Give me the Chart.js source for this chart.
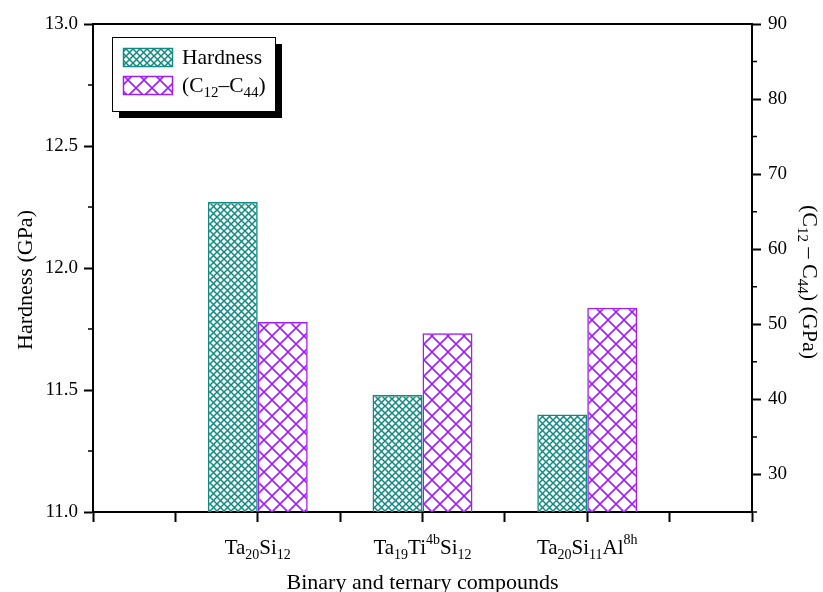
<!DOCTYPE html>
<html>
<head>
<meta charset="utf-8">
<title>Hardness and Cauchy pressure</title>
<script src="https://cdn.jsdelivr.net/npm/chart.js@4.4.1/dist/chart.umd.min.js"></script>
<style>
  html, body { margin: 0; padding: 0; background: #fff; }
  #grafico { display: block; }
</style>
</head>
<body>
<canvas id="grafico" width="823" height="592"></canvas>
<script>
// compounds, _{..} = subscript, ^{..} = superscript
var categories = ['Ta_{20}Si_{12}', 'Ta_{19}Ti^{4b}Si_{12}', 'Ta_{20}Si_{11}Al^{8h}'];
var hardness = [12.27, 11.48, 11.40];        // GPa, left axis
var c12MinusC44 = [50.3, 48.8, 52.2];        // GPa, right axis
var hardnessTicks = [11.0, 11.5, 12.0, 12.5, 13.0];
var hardnessMinor = [11.25, 11.75, 12.25, 12.75];
var cauchyTicks = [30, 40, 50, 60, 70, 80, 90];
var cauchyMinor = [25, 35, 45, 55, 65, 75, 85];

var TEAL = '#118a84';
var PURPLE = '#9e1ef5';
var FONT = "'Liberation Serif', 'Times New Roman', serif";

// x axis has 9 slots (ticks every half category), compounds sit on slots 2, 4, 6
var slots = [];
var hardSlots = [];
var cauchySlots = [];
for (var i = 0; i < 9; i++) { slots.push(''); hardSlots.push(null); cauchySlots.push(null); }
categories.forEach(function (c, k) {
    slots[2 + 2 * k] = c;
    hardSlots[2 + 2 * k] = hardness[k];
    cauchySlots[2 + 2 * k] = c12MinusC44[k];
});

var ctx = document.getElementById('grafico');
var c2d = ctx.getContext('2d');

function crossHatch(color, size, lw) {
    var t = document.createElement('canvas');
    t.width = size; t.height = size;
    var g = t.getContext('2d');
    g.strokeStyle = color;
    g.lineWidth = lw;
    g.beginPath();
    g.moveTo(-1, -1); g.lineTo(size + 1, size + 1);
    g.moveTo(size + 1, -1); g.lineTo(-1, size + 1);
    g.stroke();
    return c2d.createPattern(t, 'repeat');
}
var tealHatch = crossHatch(TEAL, 7, 1.5);
var purpleHatch = crossHatch(PURPLE, 16, 1.6);

function parseRich(str) {
    var out = [], re = /([_^])\{([^}]*)\}/g, last = 0, m;
    while ((m = re.exec(str))) {
        if (m.index > last) out.push({ t: str.slice(last, m.index), k: 'n' });
        out.push({ t: m[2], k: m[1] === '_' ? 'sub' : 'sup' });
        last = re.lastIndex;
    }
    if (last < str.length) out.push({ t: str.slice(last), k: 'n' });
    return out;
}

// draws text with sub/superscripts, x is the left edge or centre
function drawRich(g, str, x, y, size, align) {
    var parts = parseRich(str);
    var small = Math.round(size * 0.68);
    var total = 0;
    parts.forEach(function (p) {
        g.font = (p.k === 'n' ? size : small) + 'px ' + FONT;
        p.w = g.measureText(p.t).width;
        total += p.w;
    });
    var cx = align === 'center' ? x - total / 2 : x;
    g.textAlign = 'left';
    g.textBaseline = 'alphabetic';
    parts.forEach(function (p) {
        g.font = (p.k === 'n' ? size : small) + 'px ' + FONT;
        var dy = p.k === 'sub' ? size * 0.24 : (p.k === 'sup' ? -size * 0.48 : 0);
        g.fillText(p.t, cx, y + dy);
        cx += p.w;
    });
}

var decoraciones = {
    id: 'decoraciones',
    afterDraw: function (chart) {
        var g = chart.ctx;
        var a = chart.chartArea;
        var x = chart.scales.x, y = chart.scales.y, y2 = chart.scales.y2;
        g.save();
        g.fillStyle = '#000';
        g.strokeStyle = '#000';

        // top frame line
        g.lineWidth = 2;
        g.beginPath();
        g.moveTo(a.left - 1, a.top);
        g.lineTo(a.right + 1, a.top);
        g.stroke();

        // minor ticks
        g.lineWidth = 1.5;
        g.beginPath();
        hardnessMinor.forEach(function (v) {
            var py = y.getPixelForValue(v);
            g.moveTo(a.left - 5, py); g.lineTo(a.left, py);
        });
        cauchyMinor.forEach(function (v) {
            var py = y2.getPixelForValue(v);
            g.moveTo(a.right, py); g.lineTo(a.right + 5, py);
        });
        g.stroke();

        // compound labels under the axis
        g.fillStyle = '#000';
        categories.forEach(function (c, k) {
            var px = x.getPixelForValue(2 + 2 * k);
            drawRich(g, c, px, 554, 21, 'center');
        });

        // axis titles
        g.font = '22px ' + FONT;
        g.textAlign = 'center';
        g.textBaseline = 'alphabetic';
        g.fillText('Binary and ternary compounds', (a.left + a.right) / 2, 589);

        g.save();
        g.translate(32, 280);
        g.rotate(-Math.PI / 2);
        g.fillText('Hardness (GPa)', 0, 0);
        g.restore();

        g.save();
        g.translate(803, 282);
        g.rotate(Math.PI / 2);
        drawRich(g, '(C_{12} \u2013 C_{44}) (GPa)', 0, 0, 22, 'center');
        g.restore();

        // legend box with drop shadow
        var lx = 112, ly = 37, lw = 163, lh = 74;
        g.fillStyle = '#000';
        g.fillRect(lx + 7, ly + 7, lw, lh);
        g.fillStyle = '#fff';
        g.fillRect(lx, ly, lw, lh);
        g.lineWidth = 1;
        g.strokeRect(lx + 0.5, ly + 0.5, lw, lh);

        var items = [
            { pat: tealHatch, col: TEAL, txt: chart.data.datasets[0].label, y: 48 },
            { pat: purpleHatch, col: PURPLE, txt: chart.data.datasets[1].label, y: 76 }
        ];
        items.forEach(function (it) {
            g.fillStyle = it.pat;
            g.fillRect(123, it.y, 50, 19);
            g.strokeStyle = it.col;
            g.lineWidth = 1.5;
            g.strokeRect(123.5, it.y + 0.5, 49, 18);
            g.fillStyle = '#000';
            drawRich(g, it.txt, 182, it.y + 16, 21.5, 'left');
        });
        g.restore();
    }
};

var miGrafico = new Chart(ctx, {
    type: 'bar',
    data: {
        labels: slots,
        datasets: [{
            label: 'Hardness',
            data: hardSlots,
            yAxisID: 'y',
            backgroundColor: tealHatch,
            borderColor: TEAL,
            borderWidth: 1.5,
            barPercentage: 1,
            categoryPercentage: 100 / 82.4
        }, {
            label: '(C_{12}\u2013C_{44})',
            data: cauchySlots,
            yAxisID: 'y2',
            backgroundColor: purpleHatch,
            borderColor: PURPLE,
            borderWidth: 1.5,
            barPercentage: 1,
            categoryPercentage: 100 / 82.4
        }]
    },
    options: {
        responsive: false,
        animation: false,
        layout: { padding: { top: 24, left: 0, right: 0, bottom: 0 } },
        plugins: {
            legend: { display: false },
            tooltip: { enabled: false }
        },
        scales: {
            x: {
                type: 'category',
                offset: false,
                grid: { offset: false, drawOnChartArea: false, tickLength: 10, tickWidth: 2, tickColor: '#000' },
                border: { display: true, color: '#000', width: 2 },
                ticks: { autoSkip: false, maxRotation: 0, callback: function () { return ''; } },
                afterFit: function (s) { s.height = 80; }
            },
            y: {
                position: 'left',
                min: 11,
                max: 13,
                afterBuildTicks: function (s) { s.ticks = hardnessTicks.map(function (v) { return { value: v }; }); },
                grid: { drawOnChartArea: false, tickLength: 9, tickWidth: 2, tickColor: '#000' },
                border: { display: true, color: '#000', width: 2 },
                ticks: {
                    padding: 6,
                    color: '#000',
                    font: { family: FONT, size: 19 },
                    callback: function (v) { return Number(v).toFixed(1); }
                },
                afterFit: function (s) { s.width = 93; }
            },
            y2: {
                position: 'right',
                min: 25,
                max: 90,
                afterBuildTicks: function (s) { s.ticks = cauchyTicks.map(function (v) { return { value: v }; }); },
                grid: { drawOnChartArea: false, tickLength: 9, tickWidth: 2, tickColor: '#000' },
                border: { display: true, color: '#000', width: 2 },
                ticks: {
                    padding: 7,
                    color: '#000',
                    font: { family: FONT, size: 19 },
                    callback: function (v) { return String(v); }
                },
                afterFit: function (s) { s.width = 71; }
            }
        }
    },
    plugins: [decoraciones]
});
</script>
</body>
</html>
